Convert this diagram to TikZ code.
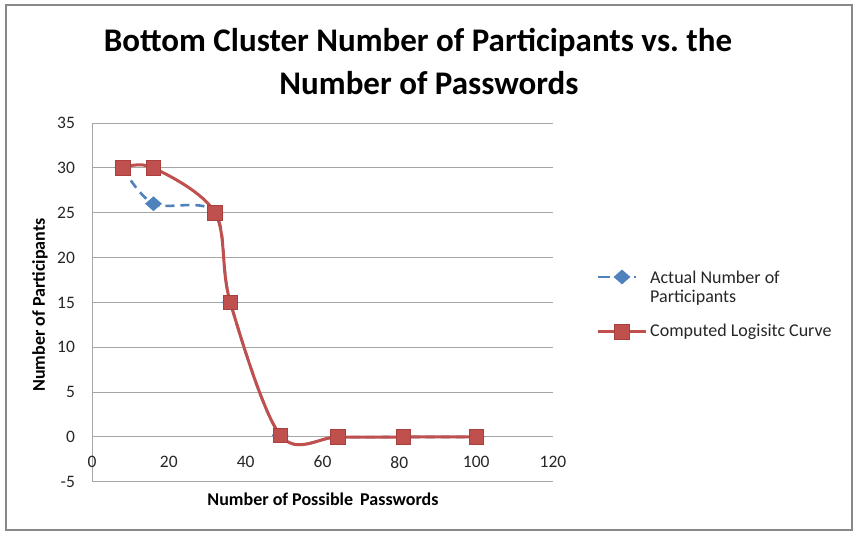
\documentclass[tikz,border=0pt]{standalone}
\usepackage{fontspec}
\setmainfont{Carlito}
\usetikzlibrary{shapes.geometric}
\definecolor{xred}{HTML}{C0504D}
\definecolor{xredd}{HTML}{A8403D}
\definecolor{xblue}{HTML}{4F81BD}
\definecolor{gridc}{HTML}{A6A6A6}
\definecolor{framec}{HTML}{888888}
\definecolor{labc}{HTML}{262626}
\begin{document}
\begin{tikzpicture}[x=1pt,y=1pt,
  redsq/.style={rectangle, fill=xred, draw=xredd, line width=0.6pt, minimum size=14.5pt, inner sep=0pt},
  bluedia/.style={diamond, fill=xblue, draw=none, minimum width=17pt, minimum height=15pt, inner sep=0pt},
  ticklab/.style={font=\fontsize{17.5}{20}\selectfont, text=labc, inner sep=0pt},
  axtitle/.style={font=\bfseries\fontsize{18}{21}\selectfont, text=black, inner sep=0pt},
  legtext/.style={font=\fontsize{18}{21}\selectfont, text=labc, inner sep=0pt, anchor=west},
  titletext/.style={font=\bfseries\fontsize{33}{40}\selectfont, text=black, inner sep=0pt, anchor=base},
  gridline/.style={draw=gridc, line width=1pt},
  redcurve/.style={draw=xred, line width=3pt},
  bluecurve/.style={draw=xblue, line width=2.6pt, dash pattern=on 9pt off 6pt}]
\useasboundingbox (0,0) rectangle (857,540);
\draw[framec, line width=1.6pt] (6,10) rectangle (852,535);
% title
\node[titletext] (title1) at (418,488) {Bottom Cluster Number of Participants vs.\ the};
\node[titletext] (title2) at (429,445) {Number of Passwords};
\begin{scope}[shift={(92,103)}, x=3.842pt, y=8.971pt]
  % grid
  \foreach \v in {-5,0,...,35} {
    \coordinate (gl\v) at (0,\v);
    \coordinate (gr\v) at (120,\v);
    \draw[gridline] (gl\v) -- (gr\v);
  }
  \coordinate (axb) at (0,-5);
  \coordinate (axt) at (0,35);
  \draw[gridline] (axb) -- (axt);
  % y tick labels
  \foreach \v [count=\i] in {-5,0,...,35}
    \node[ticklab, anchor=east] (ylab\i) at (-4.4,\v) {\v};
  % x tick labels
  \foreach \v [count=\i] in {0,20,...,120}
    \node[ticklab] (xlab\i) at (\v,-2.8) {\v};
  % curves
  \draw[bluecurve] plot[smooth, tension=0.55] coordinates {(8,30) (16,26) (32,25) (36,15) (49,0.2) (64,0) (81,0) (100,0)};
  \foreach \x/\y [count=\i] in {8/30,16/26,32/25,36/15,49/0.2,64/0,81/0,100/0}
    \node[bluedia] (a\i) at (\x,\y) {};
  \draw[redcurve] plot[smooth, tension=0.55] coordinates {(8,30) (16,30) (32,25) (36,15) (49,0.2) (64,0) (81,0) (100,0)};
  \foreach \x/\y [count=\i] in {8/30,16/30,32/25,36/15,49/0.2,64/0,81/0,100/0}
    \node[redsq] (c\i) at (\x,\y) {};
\end{scope}
% axis titles
\node[axtitle, rotate=90] (ytitle) at (40,235) {Number of Participants};
\node[axtitle] (xtitle) at (323,41) {Number of Possible\hspace{3pt} Passwords};
% legend
\coordinate (lb1) at (598,263);
\coordinate (lb2) at (636,263);
\draw[xblue, line width=2.6pt, dash pattern=on 12pt off 6pt] (lb1) -- (lb2);
\node[bluedia] (lbd) at (622,263) {};
\node[legtext] (lt1) at (650,263) {Actual Number of};
\node[legtext] (lt2) at (650,242) {Participants};
\coordinate (lr1) at (598,208);
\coordinate (lr2) at (646,208);
\draw[xred, line width=3pt] (lr1) -- (lr2);
\node[redsq] (lrs) at (622,208) {};
\node[legtext] (lt3) at (650,208) {Computed Logisitc Curve};
\end{tikzpicture}
\end{document}
